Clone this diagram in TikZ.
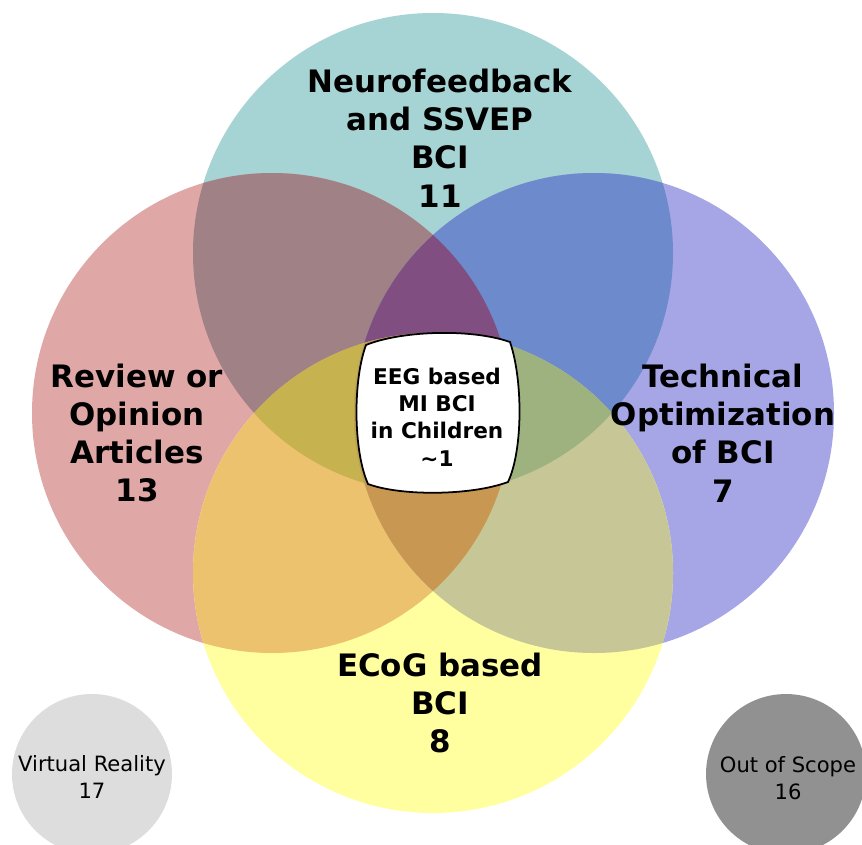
\documentclass[tikz,border=0pt]{standalone}
\usepackage{fontspec}
\setmainfont{DejaVu Sans}
\usetikzlibrary{positioning}
% single sets
\definecolor{neurocol}{RGB}{166,211,211}
\definecolor{reviewcol}{RGB}{224,167,167}
\definecolor{techcol}{RGB}{166,166,230}
\definecolor{ecogcol}{RGB}{255,255,160}
% overlaps
\definecolor{nrcol}{RGB}{160,130,134}
\definecolor{ntcol}{RGB}{108,138,204}
\definecolor{recol}{RGB}{236,194,110}
\definecolor{tecol}{RGB}{198,198,150}
\definecolor{ntrcol}{RGB}{128,78,128}
\definecolor{nrecol}{RGB}{198,178,78}
\definecolor{ntecol}{RGB}{158,178,128}
\definecolor{rtecol}{RGB}{200,152,82}
\definecolor{allcol}{RGB}{190,160,85}
\definecolor{vrcol}{RGB}{221,221,221}
\definecolor{scopecol}{RGB}{145,145,145}
\tikzset{
  smallcirc/.style={circle, minimum size=3.2cm, inner sep=0pt, fill=#1},
  biglabel/.style={align=center, font=\bfseries\fontsize{17.6}{21.8}\selectfont},
  smalllabel/.style={align=center, font=\fontsize{12}{15.3}\selectfont},
  midlabel/.style={align=center, font=\bfseries\fontsize{12.3}{15.5}\selectfont},
}
\def\neuro{(433,253) circle (240)}
\def\review{(272,413) circle (240)}
\def\tech{(594,413) circle (240)}
\def\ecog{(433,573) circle (240)}
\begin{document}
\begin{tikzpicture}[x=0.02cm,y=-0.02cm]
\clip (0,0) rectangle (862,845);
\fill[white] (0,0) rectangle (862,845);
% the four sets
\fill[neurocol] \neuro;
\fill[reviewcol] \review;
\fill[techcol] \tech;
\fill[ecogcol] \ecog;
% two at a time
\begin{scope}\clip \neuro; \fill[nrcol] \review; \fill[ntcol] \tech; \end{scope}
\begin{scope}\clip \ecog; \fill[recol] \review; \fill[tecol] \tech; \end{scope}
% three at a time
\begin{scope}\clip \neuro; \clip \review; \fill[ntrcol] \tech; \fill[nrecol] \ecog; \end{scope}
\begin{scope}\clip \neuro; \clip \tech; \fill[ntecol] \ecog; \end{scope}
\begin{scope}\clip \review; \clip \tech; \fill[rtecol] \ecog;
  \clip \neuro; \fill[allcol] \ecog; \end{scope}
% outside the sets
\node[smallcirc=vrcol] (vr) at (92,774) {};
\node[smallcirc=scopecol] (scope) at (786,774) {};
% centre box
\filldraw[fill=white, line width=1pt]
  (366,345) .. controls (400,331) and (470,328) .. (510,342)
  .. controls (523,380) and (523,450) .. (508,482)
  .. controls (470,496) and (400,496) .. (368,484)
  .. controls (353,450) and (353,380) .. (366,345) -- cycle;
% labels
\node[biglabel] (neurotxt) at (440,138) {Neurofeedback\\and SSVEP\\BCI\\11};
\node[biglabel] (reviewtxt) at (137,433) {Review or\\Opinion\\Articles\\13};
\node[biglabel] (techtxt) at (723,433) {Technical\\Optimization\\of BCI\\7};
\node[biglabel] (ecogtxt) at (440,703) {ECoG based\\BCI\\8};
\node[midlabel] (mitxt) at (437,417) {EEG based\\MI BCI\\in Children\\\textasciitilde1};
\node[smalllabel] (vrtxt) at (92,777) {Virtual Reality\\17};
\node[smalllabel] (scopetxt) at (788,778) {Out of Scope\\16};
\end{tikzpicture}
\end{document}
